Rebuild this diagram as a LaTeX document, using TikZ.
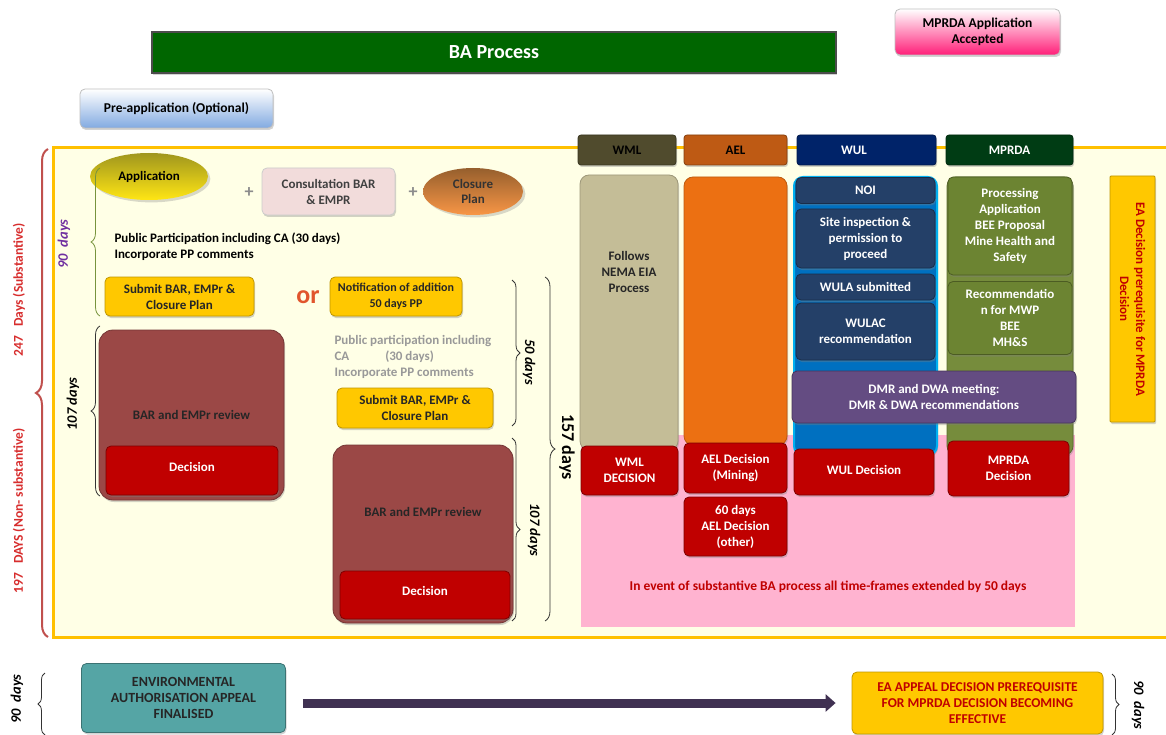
\documentclass[tikz,border=0pt]{standalone}
\usepackage{fontspec}
\setmainfont{Carlito}
\usepackage{tikz}
\usetikzlibrary{arrows.meta,shapes,shadows,decorations.pathreplacing}
\definecolor{frameyellow}{RGB}{255,192,0}
\definecolor{framefill}{RGB}{255,255,230}
\definecolor{pinkarea}{RGB}{255,179,208}
\definecolor{bagreen}{RGB}{0,102,0}
\definecolor{mprdapink}{RGB}{255,30,120}
\definecolor{preblue}{RGB}{130,170,225}
\definecolor{appolive}{RGB}{160,150,30}
\definecolor{appyellow}{RGB}{255,230,20}
\definecolor{consultpink}{RGB}{242,220,219}
\definecolor{closurebrown}{RGB}{150,95,45}
\definecolor{closureorange}{RGB}{248,150,70}
\definecolor{goldbox}{RGB}{255,200,0}
\definecolor{orred}{RGB}{225,85,45}
\definecolor{reviewbrown}{RGB}{155,72,70}
\definecolor{decred}{RGB}{192,0,0}
\definecolor{wmlhead}{RGB}{80,75,45}
\definecolor{wmlbody}{RGB}{196,189,151}
\definecolor{aelhead}{RGB}{190,90,20}
\definecolor{aelbody}{RGB}{236,112,18}
\definecolor{wulhead}{RGB}{0,35,105}
\definecolor{wulbody}{RGB}{0,112,192}
\definecolor{wuledge}{RGB}{0,176,240}
\definecolor{wulsub}{RGB}{36,64,104}
\definecolor{mprdahead}{RGB}{0,60,20}
\definecolor{mprdabody}{RGB}{118,140,60}
\definecolor{mprdasub}{RGB}{108,132,50}
\definecolor{dmrpurple}{RGB}{100,76,130}
\definecolor{bracered}{RGB}{192,80,77}
\definecolor{labelred}{RGB}{215,45,45}
\definecolor{bracegreen}{RGB}{119,147,60}
\definecolor{dayspurple}{RGB}{112,48,160}
\definecolor{appealteal}{RGB}{85,165,165}
\definecolor{arrowpurple}{RGB}{64,49,82}
\tikzstyle{gel}=[rectangle,rounded corners=5pt,line width=0.8pt,align=center,inner sep=1pt,font=\bfseries\fontsize{13}{16}\selectfont,drop shadow={shadow xshift=1pt,shadow yshift=-2pt,opacity=0.35}]
\tikzstyle{gold box}=[gel,fill=goldbox,draw=goldbox!75!black,text=black!85]
\tikzstyle{red box}=[gel,fill=decred,draw=decred!65!black,text=white]
\tikzstyle{review box}=[gel,rounded corners=14pt,fill=reviewbrown,draw=reviewbrown!75!black]
\tikzstyle{header}=[gel,rounded corners=3pt,minimum height=30pt]
\tikzstyle{wul box}=[gel,fill=wulsub,draw=wulsub!70!black,text=white,minimum width=139pt]
\tikzstyle{mprda box}=[gel,fill=mprdasub,draw=mprdasub!70!black,text=white,minimum width=124pt]
\tikzstyle{note}=[align=left,font=\bfseries\fontsize{13}{16}\selectfont]
\tikzstyle{days}=[font=\bfseries\itshape\fontsize{14.5}{16}\selectfont]
\tikzstyle{side label}=[font=\bfseries\fontsize{13.5}{15}\selectfont,text=labelred]
\tikzstyle{brace}=[decorate,decoration={brace,amplitude=8pt},thick,black!80]
\tikzstyle{big arrow}=[draw=arrowpurple,line width=9pt,-{Triangle[length=10pt,width=17pt]}]

\begin{document}
\begin{tikzpicture}[x=1pt,y=-1pt]
        \useasboundingbox (0,0) rectangle (1166,735);
        \fill[framefill] (53,148) rectangle (1175,637);
        \draw[frameyellow,line width=3pt] (1175,148) -- (53,148) -- (53,637) -- (1175,637);
        \fill[pinkarea] (581,435) rectangle (1075,627);
        % top
        \node[gel,rounded corners=0pt,minimum width=684pt,minimum height=41pt,fill=bagreen,draw=black!70,line width=2pt,text=white,font=\bfseries\fontsize{20}{22}\selectfont] (ba) at (494,52.5) {BA Process};
        \node[gel,minimum width=165pt,minimum height=46pt,top color=white,bottom color=mprdapink,draw=black!25,font=\bfseries\fontsize{13.5}{16}\selectfont] (accepted) at (977.5,32) {MPRDA Application\\Accepted};
        \node[gel,minimum width=193pt,minimum height=39pt,top color=white,bottom color=preblue,draw=black!25,font=\bfseries\fontsize{13.5}{16}\selectfont] (preapp) at (176.5,108.5) {Pre-application (Optional)};
        % BA process
        \node[ellipse,minimum width=118pt,minimum height=47pt,top color=appolive,bottom color=appyellow,font=\bfseries\fontsize{13}{16}\selectfont,drop shadow={opacity=0.3}] (app) at (149,176.5) {Application};
        \node[text=black!45,font=\bfseries\fontsize{18}{18}\selectfont] (plusa) at (249,193) {+};
        \node[gel,minimum width=133pt,minimum height=47pt,fill=consultpink,draw=black!20,text=black!75] (consult) at (328.5,191.5) {Consultation BAR\\\& EMPR};
        \node[text=black!45,font=\bfseries\fontsize{18}{18}\selectfont] (plusb) at (413,193) {+};
        \node[ellipse,minimum width=100pt,minimum height=47pt,top color=closurebrown,bottom color=closureorange,align=center,font=\bfseries\fontsize{13}{15}\selectfont,text=black!80,drop shadow={opacity=0.3}] (closure) at (473,191.5) {Closure\\Plan};
        \node[note,anchor=west] (ppa) at (111,247) {Public Participation including CA (30 days)\\Incorporate PP comments};
        \node[gold box,minimum width=149pt,minimum height=39pt] (submita) at (179.5,296.5) {Submit BAR, EMPr \&\\Closure Plan};
        \node[text=orred,font=\bfseries\fontsize{26}{26}\selectfont] (or) at (308,297) {or};
        \node[gold box,minimum width=132pt,minimum height=39pt,font=\bfseries\fontsize{12}{16}\selectfont] (notif) at (396,296.5) {Notification of addition\\50 days PP};
        \node[review box,minimum width=185pt,minimum height=170pt,text=black!85] (reviewa) at (191.5,415) {BAR and EMPr review};
        \node[red box,minimum width=172pt,minimum height=49pt] (deca) at (192,470.5) {\raisebox{8pt}{Decision}};
        \node[note,anchor=west,text=black!40] (ppb) at (331,357) {Public participation including\\CA\hspace{36pt}(30 days)\\Incorporate PP comments};
        \node[gold box,minimum width=156pt,minimum height=40pt] (submitb) at (415,408) {Submit BAR, EMPr \&\\Closure Plan};
        \node[review box,minimum width=180pt,minimum height=178pt] (reviewb) at (423,534) {};
        \node[font=\bfseries\fontsize{13}{16}\selectfont,text=black!85] (reviewbtext) at (423,512) {BAR and EMPr review};
        \node[red box,minimum width=170pt,minimum height=48pt] (decb) at (425,595) {\raisebox{8pt}{Decision}};
        % licences
        \node[header,minimum width=98pt,fill=wmlhead,draw=wmlhead!70!black] (wmlh) at (627,150) {WML};
        \node[header,minimum width=103pt,fill=aelhead,draw=aelhead!70!black] (aelh) at (735.5,150) {AEL};
        \node[header,minimum width=139pt,fill=wulhead,draw=wulhead!70!black,text=white] (wulh) at (866.5,150) {\hspace*{-25pt}WUL};
        \node[header,minimum width=127pt,fill=mprdahead,draw=mprdahead!70!black,text=white] (mprdah) at (1009.5,150) {MPRDA};
        \node[gel,rounded corners=9pt,minimum width=98pt,minimum height=275pt,fill=wmlbody,draw=wmlbody!80!black] (wmlb) at (629,312.5) {};
        \node[font=\bfseries\fontsize{13}{16}\selectfont,align=center,text=black!85] (wmltext) at (629,272) {Follows\\NEMA EIA\\Process};
        \node[gel,rounded corners=9pt,minimum width=103pt,minimum height=268pt,fill=aelbody,draw=aelbody!80!black] (aelb) at (735.5,311) {};
        \node[gel,rounded corners=9pt,minimum width=143pt,minimum height=278pt,fill=wulbody,draw=wuledge,line width=2pt] (wulb) at (865.5,316) {};
        \node[gel,rounded corners=9pt,minimum width=126pt,minimum height=278pt,fill=mprdabody,draw=mprdabody!75!black] (mprdab) at (1010,316) {};
        \node[wul box,minimum height=26pt] (noi) at (865.5,190.5) {NOI};
        \node[wul box,minimum height=59pt] (site) at (865.5,238.5) {Site inspection \&\\permission to\\proceed};
        \node[wul box,minimum height=26pt] (wula) at (865.5,287) {WULA submitted};
        \node[wul box,minimum height=57pt] (wulac) at (865.5,331.5) {WULAC\\recommendation};
        \node[mprda box,minimum height=98pt] (proc) at (1010,226) {Processing\\Application\\BEE Proposal\\Mine Health and\\Safety};
        \node[mprda box,minimum height=73pt] (recom) at (1010,318) {Recommendatio\\n for MWP\\BEE\\MH\&S};
        \node[gel,minimum width=284pt,minimum height=52pt,fill=dmrpurple,draw=dmrpurple!70!black,text=white] (dmr) at (934,397) {DMR and DWA meeting:\\DMR \& DWA recommendations};
        \node[red box,minimum width=97pt,minimum height=49pt] (wmld) at (629.5,470.5) {WML\\DECISION};
        \node[red box,minimum width=103pt,minimum height=50pt] (aeld) at (735.5,468) {AEL Decision\\(Mining)};
        \node[red box,minimum width=103pt,minimum height=59pt] (aelo) at (735.5,526.5) {60 days\\AEL Decision\\(other)};
        \node[red box,minimum width=140pt,minimum height=46pt] (wuld) at (864,472) {\raisebox{4pt}{WUL Decision}};
        \node[red box,minimum width=121pt,minimum height=55pt] (mprdad) at (1008.5,468.5) {\raisebox{5pt}{\parbox{100pt}{\centering MPRDA\\Decision}}};
        \node[font=\bfseries\fontsize{13.5}{15}\selectfont,text=decred] (extended) at (828,587) {In event of substantive BA process all time-frames extended by 50 days};
        \node[gold box,rounded corners=1pt,rotate=-90,minimum width=246pt,minimum height=45pt,text=decred] (eapre) at (1132.5,299) {EA Decision prerequisite for MPRDA\\Decision};
        % appeal
        \node[gel,minimum width=204pt,minimum height=69pt,fill=appealteal,draw=appealteal!70!black,text=black!85,font=\bfseries\fontsize{14}{16}\selectfont] (appeal) at (183.5,698) {ENVIRONMENTAL\\AUTHORISATION APPEAL\\FINALISED};
        \node[gold box,minimum width=251pt,minimum height=62pt,text=decred,font=\bfseries\fontsize{13.5}{16}\selectfont] (eaappeal) at (977.5,703) {EA APPEAL DECISION PREREQUISITE\\FOR MPRDA DECISION BECOMING\\EFFECTIVE};
        \draw[big arrow] ([xshift=17pt]appeal.east |- eaappeal.west) -- ([xshift=-16pt]eaappeal.west);
        % braces
        \coordinate (totb) at (48,637);
        \coordinate (tott) at (48,149);
        \coordinate (ninb) at (100,316);
        \coordinate (nint) at (100,168);
        \coordinate (reva) at (100,496);
        \coordinate (revat) at (100,326);
        \coordinate (fift) at (512,280);
        \coordinate (fifb) at (512,426);
        \coordinate (hunt) at (545,277);
        \coordinate (hunb) at (545,621);
        \coordinate (revbt) at (512,438);
        \coordinate (revbb) at (512,621);
        \coordinate (apb) at (45,735);
        \coordinate (apt) at (45,673);
        \coordinate (eat) at (1112,674);
        \coordinate (eab) at (1112,735);
        \draw[brace,bracered,line width=2pt,decoration={amplitude=12pt}] (totb) -- (tott);
        \draw[brace,bracegreen,decoration={amplitude=9pt}] (ninb) -- (nint);
        \draw[brace,decoration={amplitude=9pt}] (reva) -- (revat);
        \draw[brace] (fift) -- (fifb);
        \draw[brace,decoration={amplitude=10pt}] (hunt) -- (hunb);
        \draw[brace] (revbt) -- (revbb);
        \draw[brace,decoration={amplitude=7pt}] (apb) -- (apt);
        \draw[brace,decoration={amplitude=7pt}] (eat) -- (eab);
        \node[side label,rotate=90] (subst) at (19,290) {247~~~Days (Substantive)};
        \node[side label,rotate=90] (nonsubst) at (19,511) {197~~~DAYS (Non- substantive)};
        \node[days,rotate=90,text=dayspurple] (ninety) at (64,244) {90~~days};
        \node[days,rotate=90] (revadays) at (73,404) {107 days};
        \node[days,rotate=-90] (fiftydays) at (529,362) {50 days};
        \node[rotate=-90,font=\bfseries\fontsize{18}{20}\selectfont] (hundays) at (567,447) {157 days};
        \node[days,rotate=-90] (revbdays) at (534,530) {107 days};
        \node[days,rotate=90] (apdays) at (17,699) {90~~days};
        \node[days,rotate=-90] (eadays) at (1138,705) {90~~days};
      \end{tikzpicture}
\end{document}
